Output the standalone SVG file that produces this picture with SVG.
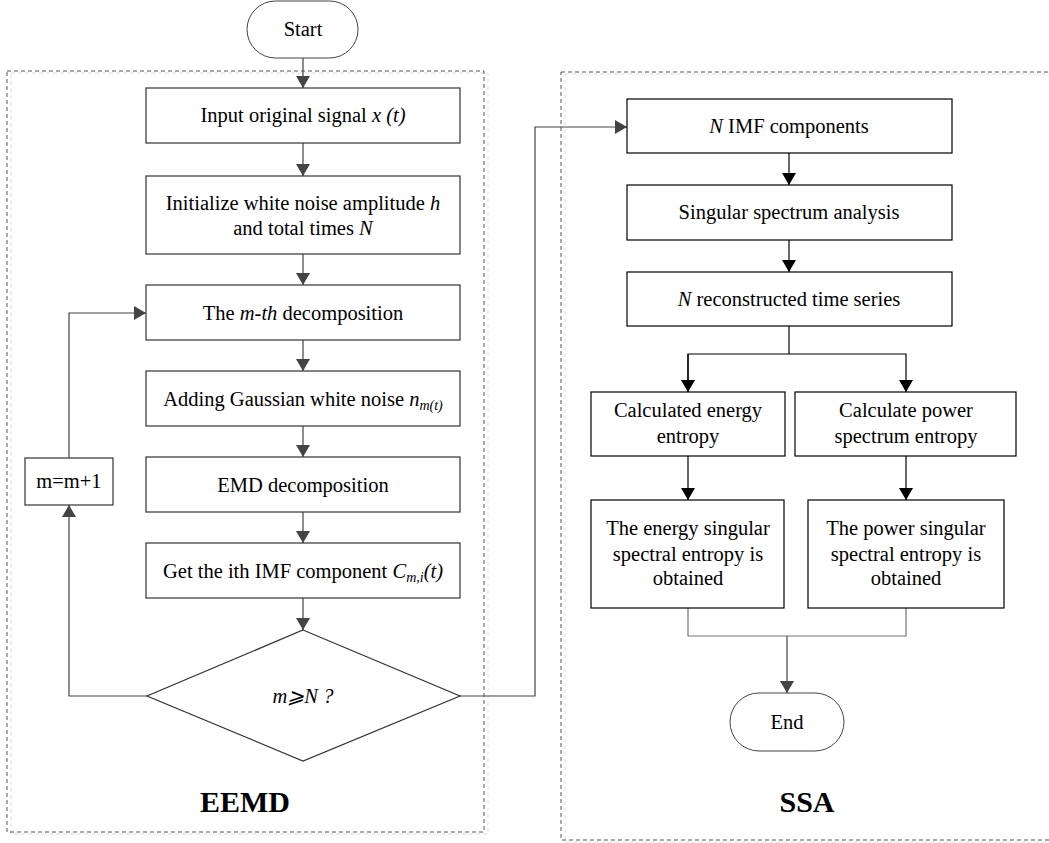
<svg xmlns="http://www.w3.org/2000/svg" width="1049" height="843" viewBox="0 0 1049 843">
<defs>
<style>
text{font-family:"Liberation Serif","Times New Roman",serif;font-size:20.5px;fill:#000;text-anchor:middle}
.it{font-style:italic}
.title{font-size:30px;font-weight:bold}
.frame{fill:none;stroke:#555;stroke-width:1;stroke-dasharray:4,3}
.shadow{fill:none;stroke:#ddd;stroke-width:1;stroke-dasharray:4,3}
.box{fill:#fff;stroke:#333;stroke-width:1.2}
.boxk{fill:#fff;stroke:#000;stroke-width:1.2}
.term{fill:#fff;stroke:#444;stroke-width:1}
.cg{fill:none;stroke:#444;stroke-width:1.2}
.ck{fill:none;stroke:#000;stroke-width:1.2}
.cl{fill:none;stroke:#777;stroke-width:1.2}
</style>
<marker id="ag" viewBox="0 0 12 14" refX="12" refY="7" markerWidth="12" markerHeight="14" markerUnits="userSpaceOnUse" orient="auto"><path d="M0,0 L12,7 L0,14 Z" fill="#444"/></marker>
<marker id="ak" viewBox="0 0 12 14" refX="12" refY="7" markerWidth="12" markerHeight="14" markerUnits="userSpaceOnUse" orient="auto"><path d="M0,0 L12,7 L0,14 Z" fill="#000"/></marker>
</defs>

<g id="frames">
<rect class="shadow" x="11" y="73" width="477" height="761"/>
<rect class="frame" x="7" y="71" width="477" height="761"/>
<rect class="shadow" x="565" y="74" width="490" height="768"/>
<rect class="frame" x="561" y="72" width="490" height="768"/>
<text class="title" x="245" y="812">EEMD</text>
<text class="title" x="807" y="812">SSA</text>
</g>

<g id="connectors">
<line class="cg" x1="303" y1="58" x2="303" y2="88" marker-end="url(#ag)"/>
<line class="cg" x1="303" y1="143" x2="303" y2="176" marker-end="url(#ag)"/>
<line class="cg" x1="303" y1="254" x2="303" y2="285" marker-end="url(#ag)"/>
<line class="cg" x1="303" y1="340" x2="303" y2="371" marker-end="url(#ag)"/>
<line class="cg" x1="303" y1="426" x2="303" y2="457" marker-end="url(#ag)"/>
<line class="cg" x1="303" y1="512" x2="303" y2="543" marker-end="url(#ag)"/>
<line class="cg" x1="303" y1="598" x2="303" y2="630" marker-end="url(#ag)"/>
<polyline class="cg" points="147,696 69,696 69,505" marker-end="url(#ag)"/>
<polyline class="cg" points="69,458 69,313 146,313" marker-end="url(#ag)"/>
<polyline class="cg" points="460,696 535,696 535,127 627,127" marker-end="url(#ag)"/>
<line class="ck" x1="789" y1="153" x2="789" y2="185" marker-end="url(#ak)"/>
<line class="ck" x1="789" y1="240" x2="789" y2="272" marker-end="url(#ak)"/>
<line class="ck" x1="789" y1="326" x2="789" y2="354"/>
<polyline class="ck" points="688,392 688,354 906,354 906,392" marker-end="url(#ak)"/>
<line class="ck" x1="688" y1="354" x2="688" y2="392" marker-end="url(#ak)"/>
<line class="ck" x1="688" y1="456" x2="688" y2="500" marker-end="url(#ak)"/>
<line class="ck" x1="906" y1="456" x2="906" y2="500" marker-end="url(#ak)"/>
<polyline class="cl" points="688,608 688,636 906,636 906,608"/>
<line class="cg" x1="787" y1="636" x2="787" y2="693" marker-end="url(#ag)"/>
</g>

<g id="start">
<rect class="term" x="247" y="1" width="111" height="57" rx="28.5"/>
<text x="303" y="36">Start</text>
</g>
<g id="input">
<rect class="box" x="146" y="88" width="314" height="55"/>
<text x="303" y="122">Input original signal <tspan class="it">x (t)</tspan></text>
</g>
<g id="init">
<rect class="box" x="146" y="176" width="314" height="78"/>
<text x="303" y="210">Initialize white noise amplitude <tspan class="it">h</tspan></text>
<text x="303" y="235">and total times <tspan class="it">N</tspan></text>
</g>
<g id="mth">
<rect class="box" x="146" y="285" width="314" height="55"/>
<text x="303" y="320">The <tspan class="it">m-th</tspan> decomposition</text>
</g>
<g id="adding">
<rect class="box" x="146" y="371" width="314" height="55"/>
<text x="303" y="406">Adding Gaussian white noise <tspan class="it">n</tspan><tspan class="it" font-size="14" dy="4">m(t)</tspan></text>
</g>
<g id="emd">
<rect class="box" x="146" y="457" width="314" height="55"/>
<text x="303" y="492">EMD decomposition</text>
</g>
<g id="getimf">
<rect class="box" x="146" y="543" width="314" height="55"/>
<text x="303" y="578">Get the ith IMF component <tspan class="it">C</tspan><tspan class="it" font-size="14" dy="4">m,i</tspan><tspan class="it" dy="-4">(t)</tspan></text>
</g>
<g id="decision">
<polygon class="box" points="303,630 460,696 303,761 147,696"/>
<text class="it" x="303" y="703">m⩾N ?</text>
</g>
<g id="increment">
<rect class="box" x="25" y="458" width="88" height="47"/>
<text x="69" y="488">m=m+1</text>
</g>
<g id="nimf">
<rect class="boxk" x="627" y="99" width="325" height="54"/>
<text x="789" y="133"><tspan class="it">N</tspan> IMF components</text>
</g>
<g id="ssa-step">
<rect class="boxk" x="627" y="185" width="325" height="55"/>
<text x="789" y="219">Singular spectrum analysis</text>
</g>
<g id="recon">
<rect class="boxk" x="627" y="272" width="325" height="54"/>
<text x="789" y="306"><tspan class="it">N</tspan> reconstructed time series</text>
</g>
<g id="energy">
<rect class="boxk" x="591" y="392" width="194" height="64"/>
<text x="688" y="417">Calculated energy</text>
<text x="688" y="443">entropy</text>
</g>
<g id="power">
<rect class="boxk" x="795" y="392" width="221" height="64"/>
<text x="906" y="417">Calculate power</text>
<text x="906" y="443">spectrum entropy</text>
</g>
<g id="energy-result">
<rect class="boxk" x="591" y="500" width="193" height="108"/>
<text x="688" y="535">The energy singular</text>
<text x="688" y="561">spectral entropy is</text>
<text x="688" y="585">obtained</text>
</g>
<g id="power-result">
<rect class="boxk" x="808" y="500" width="196" height="108"/>
<text x="906" y="535">The power singular</text>
<text x="906" y="561">spectral entropy is</text>
<text x="906" y="585">obtained</text>
</g>
<g id="end">
<rect class="term" x="730" y="693" width="114" height="58" rx="29"/>
<text x="787" y="729">End</text>
</g>
</svg>
